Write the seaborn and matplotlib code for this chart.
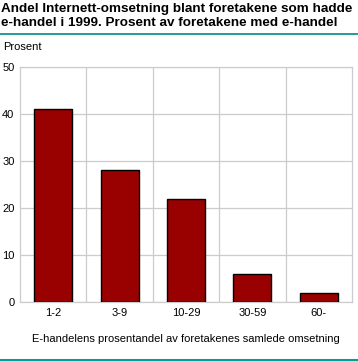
import matplotlib
matplotlib.use("Agg")
import matplotlib.pyplot as plt
import seaborn as sns
import pandas as pd
from matplotlib.lines import Line2D

categories = ["1-2", "3-9", "10-29", "30-59", "60-"]
values = [41, 28, 22, 6, 2]
yticks = [0, 10, 20, 30, 40, 50]

df = pd.DataFrame({"kat": categories, "verdi": values})

sns.set_style("white")
plt.rcParams['font.family'] = ['Liberation Sans', 'DejaVu Sans']
plt.rcParams['text.color'] = 'black'
plt.rcParams['xtick.color'] = 'black'
plt.rcParams['ytick.color'] = 'black'
plt.rcParams['axes.labelcolor'] = 'black'

fig = plt.figure(figsize=(3.58, 3.61), dpi=100)
ax = fig.add_axes([20/358, 1-302/361, 332/358, 235/361])

sns.barplot(data=df, x="kat", y="verdi", color="#990000", width=0.57,
            edgecolor="black", linewidth=1.0, saturation=1, ax=ax, zorder=3)

ax.set_xlim(-0.5, 4.5)
ax.set_ylim(0, 50)
ax.set_yticks(yticks)
ax.set_yticklabels([str(v) for v in yticks], fontsize=8)
ax.set_xticks(range(len(categories)))
ax.set_xticklabels(categories, fontsize=8)
ax.set_xticks([0.5, 1.5, 2.5, 3.5], minor=True)
ax.tick_params(axis='both', which='both', length=0, pad=4)
ax.grid(axis='y', which='major', color='#cccccc', linewidth=0.9, zorder=0)
ax.grid(axis='x', which='minor', color='#cccccc', linewidth=0.9, zorder=0)
ax.set_axisbelow(True)
for s in ax.spines.values():
    s.set_color('#cccccc')
    s.set_linewidth(0.9)
ax.set_xlabel("E-handelens prosentandel av foretakenes samlede omsetning", fontsize=8, labelpad=12)
ax.set_ylabel("")

fig.text(1/358, 1-3/361, "Andel Internett-omsetning blant foretakene som hadde\ne-handel i 1999. Prosent av foretakene med e-handel",
         fontsize=9.7, fontweight='bold', va='top', ha='left', linespacing=1.25)
fig.text(3/358, 1-47/361, "Prosent", fontsize=8, va='center', ha='left')
fig.add_artist(Line2D([0, 1], [1-34/361, 1-34/361], color='#008b8b', linewidth=1.2, transform=fig.transFigure))
fig.add_artist(Line2D([0, 1], [1-359.5/361, 1-359.5/361], color='#00a09a', linewidth=1.5, transform=fig.transFigure))

fig.savefig("out.png", dpi=100)
